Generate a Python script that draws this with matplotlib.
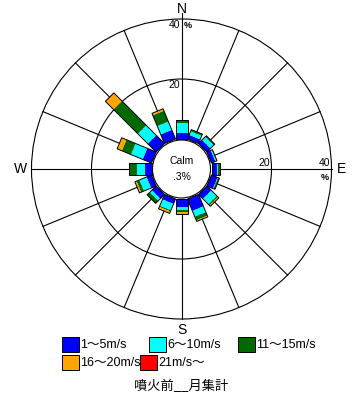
import numpy as np
import matplotlib
matplotlib.use("Agg")
import matplotlib.pyplot as plt
from matplotlib.patches import Polygon, Circle, Rectangle

# ----------------------------------
# Data (percent of observations)
# ----------------------------------
directions = ["N", "NNE", "NE", "ENE", "E", "ESE", "SE", "SSE",
              "S", "SSW", "SW", "WSW", "W", "WNW", "NW", "NNW"]
speed_1_5   = [1.9, 1.5, 1.7, 1.4, 1.9, 2.2, 2.1, 4.3, 2.6, 1.8, 2.0, 1.8, 2.2, 3.2, 3.9, 3.3]
speed_6_10  = [3.3, 1.3, 1.5, 0.4, 0.2, 0.2, 2.6, 2.1, 1.1, 2.3, 1.0, 2.6, 2.7, 4.2, 4.7, 3.0]
speed_11_15 = [1.1, 0.6, 0.5, 0.2, 0.7, 0.5, 0.5, 1.3, 0.7, 0.4, 1.2, 1.0, 2.5, 3.3, 11.4, 3.9]
speed_16_20 = [0.0, 0.0, 0.0, 0.0, 0.0, 0.0, 0.4, 0.4, 0.6, 0.7, 0.0, 0.6, 0.0, 1.7, 3.7, 0.7]
speed_21    = [0.0, 0.0, 0.0, 0.0, 0.0, 0.0, 0.0, 0.0, 0.0, 0.0, 0.0, 0.0, 0.0, 0.0, 0.2, 0.0]

labels = ["1～5m/s", "6～10m/s", "11～15m/s", "16～20m/s", "21m/s～"]
colors = ["#0000FF", "#00FFFF", "#006A00", "#FFA500", "#FF0000"]
calm_text = ".3%"
ring_ticks = [20, 40]
title = "噴火前__月集計"

# ----------------------------------
# Layout (pixel space)
# ----------------------------------
W, H = 356, 404
CX, CY = 181.5, 169.0
R0, PX_PER_PCT = 30.0, 3.0
BAR_W = 12.0

LATIN = ["Liberation Sans", "Noto Sans CJK JP"]


def rad(p):
    return R0 + PX_PER_PCT * p


fig = plt.figure(figsize=(W / 100, H / 100), dpi=100)
ax = fig.add_axes([0, 0, 1, 1])
ax.set_xlim(0, W)
ax.set_ylim(H, 0)
ax.axis("off")

# grid rings and spokes
for t in ring_ticks:
    ax.add_patch(Circle((CX, CY), rad(t), fill=False, ec="black", lw=0.8, zorder=1))
for i in range(len(directions)):
    th = np.deg2rad(i * 22.5)
    ux, uy = np.sin(th), -np.cos(th)
    r_end = rad(ring_ticks[-1]) + (6 if i == 0 else 0)
    ax.plot([CX + ux * R0, CX + ux * r_end], [CY + uy * R0, CY + uy * r_end],
            color="black", lw=0.8, zorder=1)

# stacked bars
series = [speed_1_5, speed_6_10, speed_11_15, speed_16_20, speed_21]
for i in range(len(directions)):
    th = np.deg2rad(i * 22.5)
    u = np.array([np.sin(th), -np.cos(th)])
    n = np.array([np.cos(th), np.sin(th)]) * BAR_W / 2
    c = np.array([CX, CY])
    base = 0.0
    for vals, col in zip(series, colors):
        v = vals[i]
        if v <= 0:
            continue
        a, b = c + u * rad(base), c + u * rad(base + v)
        ax.add_patch(Polygon([a - n, a + n, b + n, b - n], closed=True,
                             fc=col, ec="none", zorder=3))
        base += v
    a, b = c + u * R0, c + u * rad(base)
    ax.add_patch(Polygon([a - n, a + n, b + n, b - n], closed=True,
                         fill=False, ec="black", lw=0.7, zorder=4))

# calm circle
ax.add_patch(Circle((CX, CY), R0 - 1, fc="white", ec="black", lw=0.8, zorder=5))
ax.text(CX, CY - 8, "Calm", ha="center", va="center", fontsize=7.5,
        family=LATIN, zorder=6)
ax.text(CX, CY + 8, calm_text, ha="center", va="center", fontsize=7.5,
        family=LATIN, zorder=6)

# compass labels
ax.text(CX, 9, "N", ha="center", va="center", fontsize=10, family=LATIN)
ax.text(341, CY, "E", ha="center", va="center", fontsize=10, family=LATIN)
ax.text(CX, 330, "S", ha="center", va="center", fontsize=10, family=LATIN)
ax.text(20, CY, "W", ha="center", va="center", fontsize=10, family=LATIN)

# ring tick labels
for t in ring_ticks:
    ax.text(CX - 1.5, CY - rad(t) + 6, str(t), ha="right", va="center",
            fontsize=7.5, family=LATIN)
    ax.text(CX + rad(t) - 1.5, CY - 6, str(t), ha="right", va="center",
            fontsize=7.5, family=LATIN)
ax.text(CX + 2, CY - rad(40) + 6, "%", ha="left", va="center", fontsize=6.5,
        weight="bold", family=LATIN)
ax.text(CX + rad(40) - 3, CY + 8, "%", ha="right", va="center", fontsize=6.5,
        weight="bold", family=LATIN)

# legend
leg_pos = [(62, 337), (149, 337), (238, 337), (62, 355), (140, 355)]
for (lx, ly), lab, col in zip(leg_pos, labels, colors):
    ax.add_patch(Rectangle((lx, ly), 17, 15, fc=col, ec="black", lw=0.7))
    ax.text(lx + 18, ly + 7.5, lab, ha="left", va="center", fontsize=9,
            family=LATIN)

ax.text(CX, 386, title, ha="center", va="center", fontsize=9.5,
        family=["Noto Sans CJK JP", "DejaVu Sans"])

fig.savefig("out.png", dpi=100)
